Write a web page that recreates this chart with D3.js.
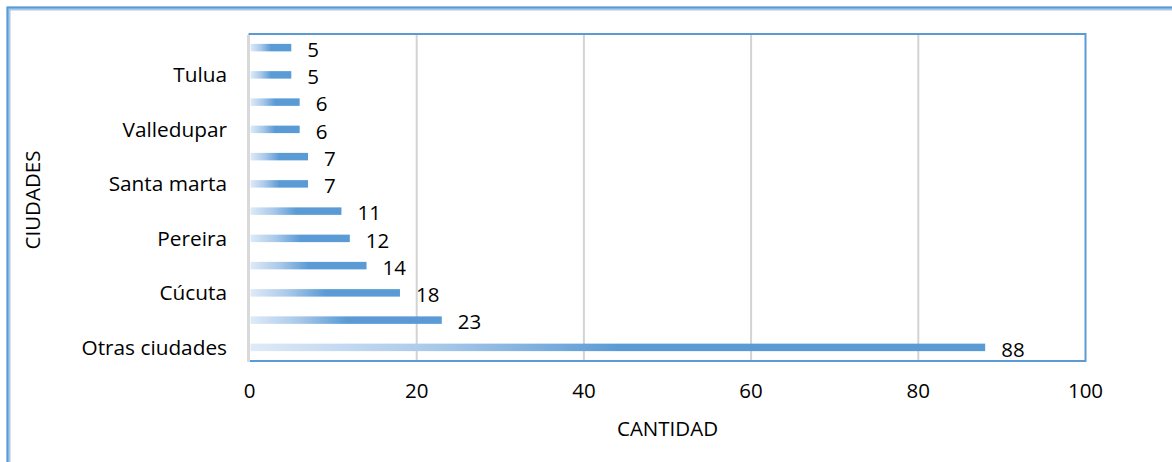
<!DOCTYPE html>
<html>
<head>
<meta charset="utf-8">
<script src="https://cdn.jsdelivr.net/npm/d3@7"></script>
<style>
  html, body { margin: 0; padding: 0; background: #fff; }
  svg { display: block; font-family: "Open Sans", "Noto Sans", sans-serif; }
</style>
</head>
<body>
<svg id="chart" width="1172" height="462"></svg>
<script>
// Cities, listed bottom to top; only every other axis label is printed
const categories = ["Otras ciudades", "", "Cúcuta", "", "Pereira", "", "Santa marta", "", "Valledupar", "", "Tulua", ""];
const values = [88, 23, 18, 14, 12, 11, 7, 7, 6, 6, 5, 5];
const xTicks = [0, 20, 40, 60, 80, 100];
const xTitle = "CANTIDAD";
const yTitle = "CIUDADES";

const svg = d3.select("#chart");
const W = 1172, H = 462;
const plot = { left: 249.5, right: 1085.5, top: 34, bottom: 361 };

const x = d3.scaleLinear().domain([0, 100]).range([plot.left, plot.right]);
const y = d3.scaleBand()
  .domain(d3.range(categories.length))
  .range([plot.bottom, plot.top])
  .paddingInner(0.725)
  .paddingOuter(0.3625);

// Bar gradient: pale blue fading into the series colour
const defs = svg.append("defs");
const grad = defs.append("linearGradient")
  .attr("id", "barFill")
  .attr("x1", "0").attr("y1", "0").attr("x2", "1").attr("y2", "0");
grad.append("stop").attr("offset", "0%").attr("stop-color", "#deeaf7");
grad.append("stop").attr("offset", "25%").attr("stop-color", "#a9c9ea");
grad.append("stop").attr("offset", "50%").attr("stop-color", "#5b9bd5");
grad.append("stop").attr("offset", "100%").attr("stop-color", "#5b9bd5");

// Outer chart frame (open on the right and bottom)
svg.append("path")
  .attr("d", `M8.5,${H + 5}V8.5H${W + 5}`)
  .attr("fill", "none").attr("stroke", "#a8c8ea").attr("stroke-width", 4);
svg.append("path")
  .attr("d", `M7.5,${H + 5}V7.5H${W + 5}`)
  .attr("fill", "none").attr("stroke", "#5b9bd5").attr("stroke-width", 2);

// Vertical gridlines
svg.append("g")
  .selectAll("line")
  .data(xTicks.filter(t => t > 0 && t < 100))
  .join("line")
  .attr("x1", d => x(d)).attr("x2", d => x(d))
  .attr("y1", plot.top).attr("y2", plot.bottom)
  .attr("stroke", "#d3d3d3").attr("stroke-width", 2);

// Plot area border (top, right, bottom)
svg.append("path")
  .attr("d", `M${plot.left - 1},${plot.top}H${plot.right}V${plot.bottom}H${plot.left - 1}`)
  .attr("fill", "none").attr("stroke", "#5b9bd5").attr("stroke-width", 2);

// Category axis line
svg.append("line")
  .attr("x1", plot.left - 1).attr("x2", plot.left - 1)
  .attr("y1", plot.top + 1).attr("y2", plot.bottom + 1)
  .attr("stroke", "#d9d9d9").attr("stroke-width", 3);

// Bars
svg.append("g")
  .selectAll("rect")
  .data(values)
  .join("rect")
  .attr("x", x(0) + 1)
  .attr("y", (d, i) => y(i))
  .attr("width", d => x(d) - x(0) - 1)
  .attr("height", y.bandwidth())
  .attr("fill", "url(#barFill)");

// Value labels
svg.append("g")
  .selectAll("text")
  .data(values)
  .join("text")
  .attr("x", d => x(d) + 16)
  .attr("y", (d, i) => y(i) + y.bandwidth() / 2 + 2)
  .attr("dy", "0.35em")
  .attr("font-size", 20.5)
  .attr("fill", "#000")
  .text(d => d);

// Category labels
svg.append("g")
  .selectAll("text")
  .data(categories)
  .join("text")
  .attr("x", 227)
  .attr("y", (d, i) => y(i) + y.bandwidth() / 2)
  .attr("dy", "0.35em")
  .attr("text-anchor", "end")
  .attr("font-size", 20.8)
  .attr("fill", "#000")
  .text(d => d);

// Value axis tick labels
svg.append("g")
  .selectAll("text")
  .data(xTicks)
  .join("text")
  .attr("x", d => x(d))
  .attr("y", 391)
  .attr("dy", "0.35em")
  .attr("text-anchor", "middle")
  .attr("font-size", 20.5)
  .attr("fill", "#000")
  .text(d => d);

// Axis titles
svg.append("text")
  .attr("x", (plot.left + plot.right) / 2)
  .attr("y", 429)
  .attr("dy", "0.35em")
  .attr("text-anchor", "middle")
  .attr("font-size", 20.5)
  .attr("fill", "#000")
  .text(xTitle);

svg.append("text")
  .attr("transform", "translate(33,200) rotate(-90)")
  .attr("dy", "0.35em")
  .attr("text-anchor", "middle")
  .attr("font-size", 20.5)
  .attr("fill", "#000")
  .text(yTitle);
</script>
</body>
</html>
